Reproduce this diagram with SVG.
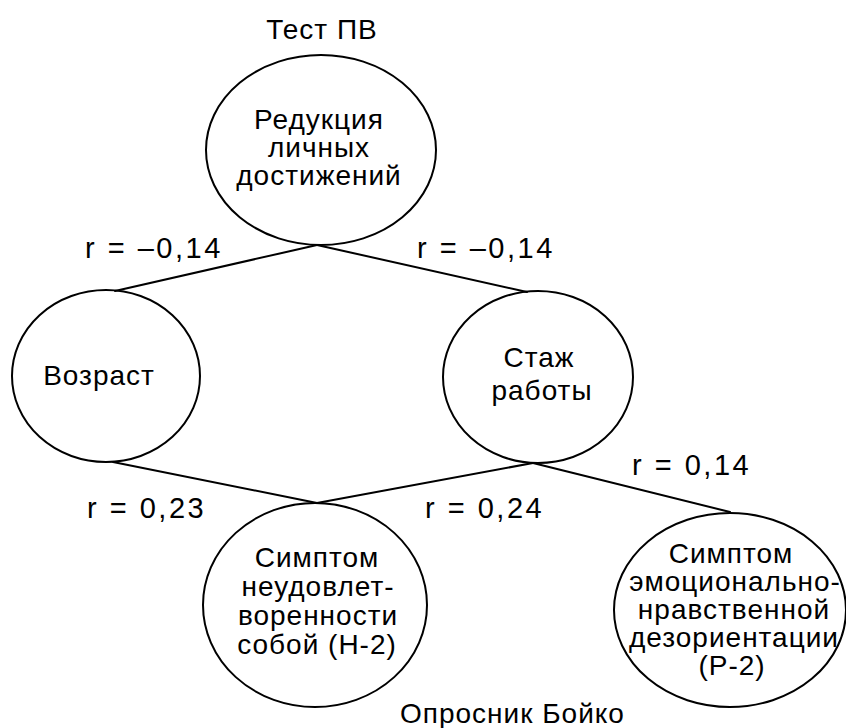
<svg xmlns="http://www.w3.org/2000/svg" width="846" height="728" viewBox="0 0 846 728">
<style>
.bg{fill:#ffffff}
.node ellipse{fill:none;stroke:#000000;stroke-width:2}
.t{font-family:"Liberation Sans",Arial,sans-serif;font-size:28px;letter-spacing:1px;fill:#000000}
.lbl{font-family:"Liberation Sans",Arial,sans-serif;font-size:29px;letter-spacing:2.5px;fill:#000000}
.c{text-anchor:middle}
.conn line{stroke:#000000;stroke-width:2;stroke-linecap:round}
</style>
<rect class="bg" x="0" y="0" width="846" height="728"/>
<g id="connectors" class="conn">
<line x1="317" y1="245" x2="115" y2="291"/>
<line x1="317" y1="245" x2="527" y2="292"/>
<line x1="113" y1="462" x2="317" y2="503"/>
<line x1="533" y1="463" x2="317" y2="503"/>
<line x1="533" y1="463" x2="730" y2="512"/>
</g>
<g id="node-reduction" class="node">
<ellipse cx="321" cy="150" rx="115" ry="95"/>
<text class="t c" x="319" y="129">Редукция</text>
<text class="t c" x="319" y="157">личных</text>
<text class="t c" x="319" y="185">достижений</text>
</g>
<g id="node-age" class="node">
<ellipse cx="106" cy="376" rx="94" ry="86"/>
<text class="t c" x="99" y="385">Возраст</text>
</g>
<g id="node-experience" class="node">
<ellipse cx="538" cy="377" rx="95" ry="86"/>
<text class="t c" x="539" y="367">Стаж</text>
<text class="t c" x="542" y="400">работы</text>
</g>
<g id="node-h2" class="node">
<ellipse cx="315" cy="605" rx="112" ry="102"/>
<text class="t c" x="317" y="567">Симптом</text>
<text class="t c" x="318" y="596">неудовлет-</text>
<text class="t c" x="318" y="625">воренности</text>
<text class="t c" x="317" y="654">собой (Н-2)</text>
</g>
<g id="node-p2" class="node">
<ellipse cx="730" cy="610" rx="116" ry="97"/>
<text class="t c" x="731" y="563">Симптом</text>
<text class="t c" x="735" y="591">эмоционально-</text>
<text class="t c" x="734" y="619">нравственной</text>
<text class="t c" x="734" y="647">дезориентации</text>
<text class="t c" x="732" y="675">(Р-2)</text>
</g>
<g id="labels">
<text class="t c" x="322" y="39">Тест ПВ</text>
<text class="lbl" x="85" y="258">r = –0,14</text>
<text class="lbl" x="417" y="258">r = –0,14</text>
<text class="lbl" x="632" y="475">r = 0,14</text>
<text class="lbl" x="87" y="518">r = 0,23</text>
<text class="lbl" x="425" y="518">r = 0,24</text>
<text class="t" x="400" y="723">Опросник Бойко</text>
</g>
</svg>
